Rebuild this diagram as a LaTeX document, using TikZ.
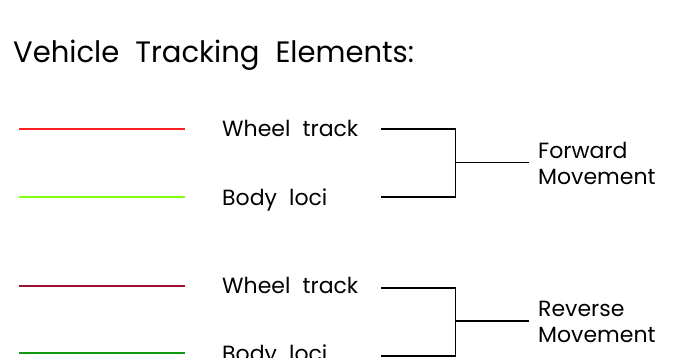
\documentclass[tikz,border=0pt]{standalone}
\usepackage{fontspec}
\setmainfont{Poppins}
\definecolor{fwheel}{HTML}{FF2020}
\definecolor{fbody}{HTML}{80FF10}
\definecolor{rwheel}{HTML}{A01030}
\definecolor{rbody}{HTML}{109A10}
\newcommand{\wgap}{\hspace{0.55em}}
\begin{document}
\begin{tikzpicture}[x=1pt,y=-1pt,
  lbl/.style={anchor=base west,inner sep=0pt,font=\fontsize{22}{26}\selectfont},
  ttl/.style={anchor=base west,inner sep=0pt,font=\fontsize{29.5}{34}\selectfont},
  sample/.style={line width=2pt},
  brk/.style={line width=1.6pt,black}]
\useasboundingbox (0,0) rectangle (700,358);
\node[ttl,xscale=0.985] (title) at (13,63) {Vehicle\wgap Tracking\wgap Elements:};
% sample lines
\coordinate (s1a) at (19,129.5); \coordinate (s1b) at (185,129.5);
\coordinate (s2a) at (19,196.5); \coordinate (s2b) at (185,196.5);
\coordinate (s3a) at (19,285.5); \coordinate (s3b) at (185,285.5);
\coordinate (s4a) at (19,353.3); \coordinate (s4b) at (185,353.3);
\draw[sample,fwheel] (s1a) -- (s1b);
\draw[sample,fbody] (s2a) -- (s2b);
\draw[sample,rwheel] (s3a) -- (s3b);
\draw[sample,rbody] (s4a) -- (s4b);
% labels
\node[lbl] (wt1) at (222,137) {Wheel\wgap track};
\node[lbl] (bl1) at (222,205) {Body\wgap loci};
\node[lbl] (wt2) at (222,293) {Wheel\wgap track};
\node[lbl] (bl2) at (222,361) {Body\wgap loci};
% brackets
\coordinate (b1t) at (381,129.3); \coordinate (b1b) at (381,196.7);
\coordinate (j1) at (455.5,162.3); \coordinate (m1) at (529.3,162.3);
\coordinate (b2t) at (381,287.7); \coordinate (b2b) at (381,355.7);
\coordinate (j2) at (455.5,321); \coordinate (m2) at (529.3,321);
\draw[brk] (b1t) -| (j1) |- (b1b);
\draw[brk] (j1) -- (m1);
\draw[brk] (b2t) -| (j2) |- (b2b);
\draw[brk] (j2) -- (m2);
\node[lbl] (fw) at (538,158.3) {Forward};
\node[lbl] (fm) at (538,184) {Movement};
\node[lbl] (rv) at (538,316.7) {Reverse};
\node[lbl] (rm) at (538,342.3) {Movement};
\end{tikzpicture}
\end{document}
